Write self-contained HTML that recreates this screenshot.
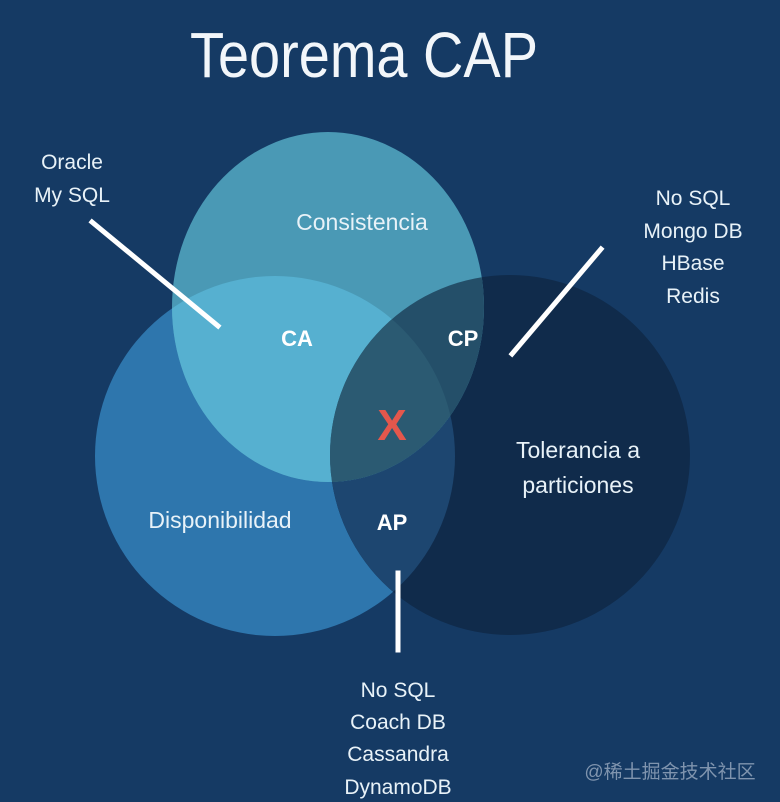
<!DOCTYPE html>
<html><head><meta charset="utf-8"><style>
html,body{margin:0;padding:0;background:#153a64;}
svg{display:block}
</style></head><body>
<svg width="780" height="802" viewBox="0 0 780 802" xmlns="http://www.w3.org/2000/svg">
<defs>
<clipPath id="cL"><circle cx="275" cy="456" r="180"/></clipPath>
<clipPath id="cR"><circle cx="510" cy="455" r="180"/></clipPath>
</defs>
<rect width="780" height="802" fill="#153a64"/>
<text x="364" y="77" text-anchor="middle" font-family="Liberation Sans, sans-serif" font-size="64" fill="#f2f6fa" textLength="348" lengthAdjust="spacingAndGlyphs">Teorema CAP</text>
<circle cx="275" cy="456" r="180" fill="#2e76ad"/>
<circle cx="510" cy="455" r="180" fill="#102b4b"/>
<circle cx="275" cy="456" r="180" fill="#1d4670" clip-path="url(#cR)"/>
<ellipse cx="328" cy="307" rx="156" ry="175" fill="#4a99b5"/>
<ellipse cx="328" cy="307" rx="156" ry="175" fill="#56b0d0" clip-path="url(#cL)"/>
<ellipse cx="328" cy="307" rx="156" ry="175" fill="#244f69" clip-path="url(#cR)"/>
<g clip-path="url(#cL)"><ellipse cx="328" cy="307" rx="156" ry="175" fill="#2b5a72" clip-path="url(#cR)"/></g>
<g font-family="Liberation Sans, sans-serif" fill="#e8f2f8" text-anchor="middle">
<text x="362" y="230" font-size="23">Consistencia</text>
<text x="220" y="528" font-size="23">Disponibilidad</text>
<text x="578" y="458" font-size="23">Tolerancia a</text>
<text x="578" y="493" font-size="23">particiones</text>
<g font-weight="bold" font-size="22" fill="#ffffff">
<text x="297" y="346">CA</text>
<text x="463" y="346">CP</text>
<text x="392" y="530">AP</text>
</g>
<text x="392" y="440" font-size="44" font-weight="bold" fill="#e4574c">X</text>
<g font-size="21">
<text x="72" y="169">Oracle</text>
<text x="72" y="202">My SQL</text>
<text x="693" y="205">No SQL</text>
<text x="693" y="238">Mongo DB</text>
<text x="693" y="270">HBase</text>
<text x="693" y="303">Redis</text>
<text x="398" y="697">No SQL</text>
<text x="398" y="729">Coach DB</text>
<text x="398" y="761">Cassandra</text>
<text x="398" y="794">DynamoDB</text>
</g>
</g>
<g stroke="#ffffff" stroke-width="5" stroke-linecap="square">
<line x1="92" y1="222" x2="218" y2="326"/>
<line x1="601" y1="249" x2="512" y2="354"/>
<line x1="398" y1="573" x2="398" y2="650"/>
</g>
<text x="670" y="778" text-anchor="middle" font-family="Liberation Sans, 'Noto Sans CJK SC', sans-serif" font-size="19" fill="#7f94ae">@稀土掘金技术社区</text>
</svg>
</body></html>
